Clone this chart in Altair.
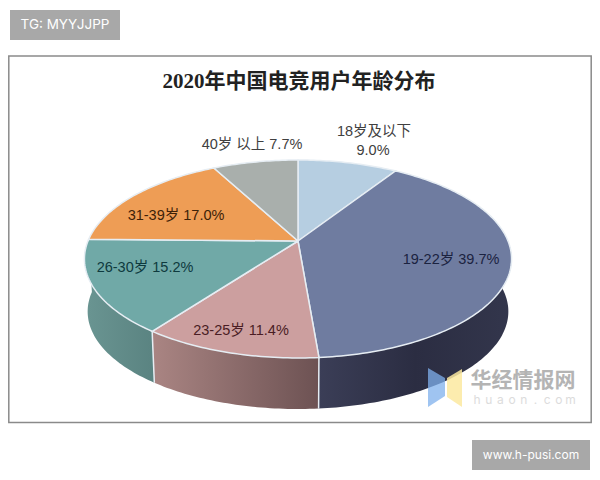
import math
import altair as alt
import pandas as pd

# ---- data ----
labels = ["18岁及以下", "19-22岁", "23-25岁", "26-30岁", "31-39岁", "40岁以上"]
shares = [9.0, 39.7, 11.4, 15.2, 17.0, 7.7]
top_colors = ["#b6cee1", "#6f7ca0", "#cc9f9f", "#70a9a7", "#ee9d55", "#a9afac"]
title_text = "2020年中国电竞用户年龄分布"

# ---- perspective disc geometry ----
CX, CY, RX, RY, K = 298, 241, 210, 95.7, 0.1818
DEPTH, SHRINK = 52.8, 0.985
LABEL_FONT = "Liberation Sans, Noto Sans CJK SC"


def proj(deg, depth=0.0, scale=1.0):
    a = math.radians(deg)
    u, v = math.sin(a), math.cos(a)
    d = 1 + K * v
    return CX + scale * RX * u / d, CY + depth - scale * RY * v / d


def arc(a0, a1, depth=0.0, scale=1.0):
    n = max(2, int(abs(a1 - a0)) + 1)
    return [proj(a0 + (a1 - a0) * i / (n - 1), depth, scale) for i in range(n)]


def frame(points):
    points = points + [points[0]]
    return pd.DataFrame({"x": [p[0] for p in points], "y": [p[1] for p in points],
                         "i": range(len(points))})


X = alt.X("x:Q", scale=alt.Scale(domain=[8, 592], zero=False, nice=False), axis=None)
Y = alt.Y("y:Q", scale=alt.Scale(domain=[472, 8], zero=False, nice=False), axis=None)


def poly(points, fill, stroke=None, sw=1.5, opacity=1.0):
    kw = {"stroke": stroke, "strokeWidth": sw} if stroke else {"strokeOpacity": 0}
    return alt.Chart(frame(points)).mark_line(fill=fill, fillOpacity=opacity, interpolate="linear", **kw).encode(
        x=X, y=Y, order="i:Q")


def hgrad(stops):
    return alt.Gradient(gradient="linear", x1=0, x2=1, y1=0, y2=0,
                        stops=[alt.GradientStop(offset=o, color=c) for o, c in stops])


def box(x0, y0, x1, y1, **mark):
    return alt.Chart(pd.DataFrame({"a": [0]})).mark_rect(**mark).encode(
        x=alt.value(x0 - 8), x2=alt.value(x1 - 8), y=alt.value(y0 - 8), y2=alt.value(y1 - 8))


def label(text, x, y, size=14.5, color="#333333", font=LABEL_FONT, weight="normal", align="center"):
    return alt.Chart(pd.DataFrame({"t": [text]})).mark_text(
        fontSize=size, color=color, font=font, fontWeight=weight, align=align, baseline="middle"
    ).encode(text="t:N", x=alt.value(x - 8), y=alt.value(y - 8))


# angles
edges = [0.0]
for s in shares:
    edges.append(edges[-1] + s * 3.6)

layers = [
    box(10, 10, 120, 40, fill="#a8a8a8"),
    box(472, 440, 590, 470, fill="#a8a8a8"),
    box(8.8, 56, 591.2, 422.5, fill="#ffffff", stroke="#8a8a8a", strokeWidth=1.5),
    label("TG: MYYJJPP", 65, 25, size=13.5, color="#ffffff", font="Inter"),
    label("www.h-pusi.com", 531, 455, size=12, color="#ffffff", font="Inter"),
    label(title_text, 299, 82, size=21, color="#222222", font="Liberation Serif, Noto Sans CJK SC", weight="bold"),
]

# side walls
WALL_RIM = "#e6edf3"
wall_fills = {
    1: hgrad([(0, "#3b3e57"), (0.5, "#2b2d42"), (1, "#33364c")]),
    2: hgrad([(0, "#aa8583"), (1, "#6d5253")]),
    3: hgrad([(0, "#6a9592"), (1, "#5a8381")]),
}
for idx in (1, 2, 3):
    a0, a1 = edges[idx], edges[idx + 1]
    if idx == 1:
        a0 = 85
    top = arc(a0, a1)
    bottom = arc(a1, a0, DEPTH, SHRINK)
    layers.append(poly(top + bottom, wall_fills[idx]))
    if idx > 1:
        layers.append(poly([proj(a0), proj(a0, DEPTH, SHRINK), proj(a0)], "#ffffff", stroke=WALL_RIM, sw=1.5))

# top faces
for idx, color in enumerate(top_colors):
    pts = [(CX, CY)] + arc(edges[idx], edges[idx + 1])
    layers.append(poly(pts, color, stroke=WALL_RIM, sw=1.5))

# slice labels
layers += [
    label("18岁及以下", 374, 132, color="#404040"),
    label("9.0%", 373, 151, color="#404040"),
    label("19-22岁 39.7%", 451, 260, color="#1b2340"),
    label("23-25岁 11.4%", 241, 331, color="#4a1d24"),
    label("26-30岁 15.2%", 145, 268, color="#0e3a3e"),
    label("31-39岁 17.0%", 176, 216, color="#3d2208"),
    label("40岁 以上 7.7%", 252, 145, color="#404040"),
]

# watermark
layers += [
    alt.Chart(frame([(428, 368), (445, 378), (445, 396), (428, 407)])).mark_line(
        fill="#7fb0ec", fillOpacity=0.75, strokeOpacity=0).encode(x=X, y=Y, order="i:Q"),
    alt.Chart(frame([(447, 378), (462, 369), (462, 407), (447, 397)])).mark_line(
        fill="#fbe9a0", fillOpacity=0.85, strokeOpacity=0).encode(x=X, y=Y, order="i:Q"),
    label("华经情报网", 523, 381, size=21, color="#b4b4b4", font="Noto Sans CJK SC", weight="bold"),
]
for i, ch in enumerate("huaon.com"):
    layers.append(label(ch, 477 + i * 11.7, 400, size=12, color="#dcdcdc", font="Inter"))

chart = alt.layer(*layers).properties(
    width=584, height=464, padding=0, background="#ffffff", autosize=alt.AutoSizeParams(type="none")
).configure_view(stroke=None)

chart.save("out.html", embed_options={"renderer": "svg", "actions": False})
